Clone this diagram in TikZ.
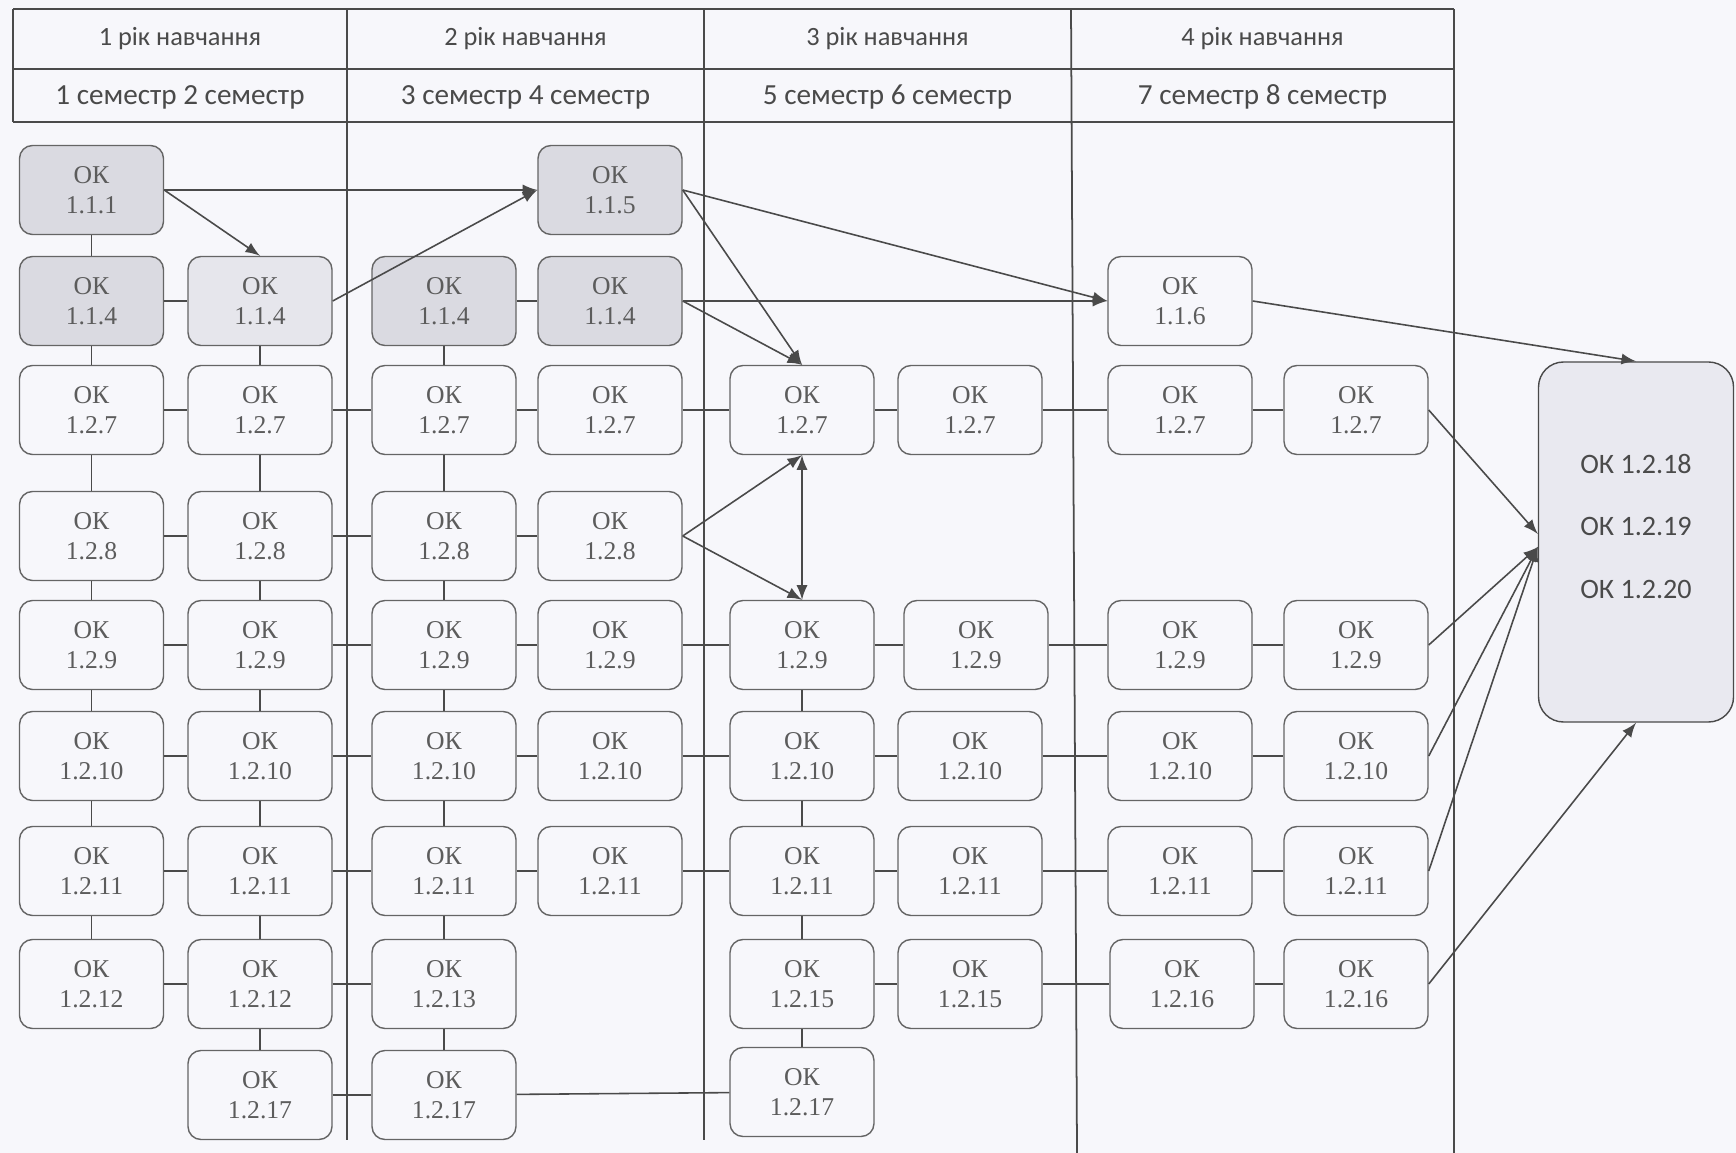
\documentclass[tikz,border=0pt]{standalone}
\usepackage{fontspec}
\setmainfont{Liberation Serif}
\newfontfamily\headfont{Carlito}
\usepackage{xcolor}
\usepackage{tikz}
\usetikzlibrary{arrows}
\usetikzlibrary{positioning}
\definecolor{paper}{HTML}{F7F7FB}
\definecolor{okdark}{HTML}{DADAE1}
\definecolor{okpale}{HTML}{E6E6EC}
\definecolor{okfinal}{HTML}{E9E9F0}
\definecolor{ink}{HTML}{4A4A4A}
\tikzstyle{okbox} = [rectangle, rounded corners=1.3mm, minimum width=1.44cm, minimum height=0.89cm, text width=1.0cm, text centered, align=center, draw=ink!85, text=ink!90, font=\fontsize{7.3}{8.6}\selectfont]
\tikzstyle{finalbox} = [rectangle, rounded corners=2.5mm, minimum width=1.95cm, minimum height=3.6cm, text depth=3.2mm, align=center, draw=ink, fill=okfinal, text=ink, font=\headfont\fontsize{8}{17.8}\selectfont]
\tikzstyle{year} = [font=\headfont\fontsize{7.5}{9}\selectfont, text=ink]
\tikzstyle{semester} = [font=\headfont\fontsize{8.3}{10}\selectfont, text=ink]
\tikzstyle{tableline} = [ink, line width=0.5pt]
\tikzstyle{link} = [ink, line width=0.45pt]
\tikzstyle{arrow} = [link,->,>=latex]

\begin{document}
\begin{tikzpicture}
    \fill[paper] (0,0) rectangle (17.36,-11.53);
    \useasboundingbox (0,0) rectangle (17.36,-11.53);
    %
    \draw[tableline] (0.13,-0.09) -- (14.54,-0.09);
    \draw[tableline] (0.13,-0.69) -- (14.54,-0.69);
    \draw[tableline] (0.13,-1.22) -- (14.54,-1.22);
    \draw[tableline] (0.13,-0.09) -- (0.13,-1.22);
    \draw[tableline] (3.47,-0.09) -- (3.47,-11.40);
    \draw[tableline] (7.04,-0.09) -- (7.04,-11.40);
    \draw[tableline] (10.71,-0.09) -- (10.77,-11.53);
    \draw[tableline] (14.54,-0.09) -- (14.54,-11.53);
    \node(year1)[year] at (1.80,-0.39) {1 рік навчання};
    \node(year2)[year] at (5.255,-0.39) {2 рік навчання};
    \node(year3)[year] at (8.875,-0.39) {3 рік навчання};
    \node(year4)[year] at (12.625,-0.39) {4 рік навчання};
    \node(sem12)[semester] at (1.80,-0.97) {1 семестр 2 семестр};
    \node(sem34)[semester] at (5.255,-0.97) {3 семестр 4 семестр};
    \node(sem56)[semester] at (8.875,-0.97) {5 семестр 6 семестр};
    \node(sem78)[semester] at (12.625,-0.97) {7 семестр 8 семестр};
    %
    \node(ok111s1)[okbox, fill=okdark] at (0.915,-1.90) {ОК\\1.1.1};
    \node(ok114s1)[okbox, fill=okdark, node distance=1.11cm, below of=ok111s1] {ОК\\1.1.4};
    \node(ok127s1)[okbox, node distance=1.09cm, below of=ok114s1] {ОК\\1.2.7};
    \node(ok128s1)[okbox, node distance=1.26cm, below of=ok127s1] {ОК\\1.2.8};
    \node(ok129s1)[okbox, node distance=1.09cm, below of=ok128s1] {ОК\\1.2.9};
    \node(ok1210s1)[okbox, node distance=1.11cm, below of=ok129s1] {ОК\\1.2.10};
    \node(ok1211s1)[okbox, node distance=1.15cm, below of=ok1210s1] {ОК\\1.2.11};
    \node(ok1212s1)[okbox, node distance=1.13cm, below of=ok1211s1] {ОК\\1.2.12};
    %
    \node(ok114s2)[okbox, fill=okpale, node distance=1.685cm, right of=ok114s1] {ОК\\1.1.4};
    \node(ok127s2)[okbox, node distance=1.685cm, right of=ok127s1] {ОК\\1.2.7};
    \node(ok128s2)[okbox, node distance=1.685cm, right of=ok128s1] {ОК\\1.2.8};
    \node(ok129s2)[okbox, node distance=1.685cm, right of=ok129s1] {ОК\\1.2.9};
    \node(ok1210s2)[okbox, node distance=1.685cm, right of=ok1210s1] {ОК\\1.2.10};
    \node(ok1211s2)[okbox, node distance=1.685cm, right of=ok1211s1] {ОК\\1.2.11};
    \node(ok1212s2)[okbox, node distance=1.685cm, right of=ok1212s1] {ОК\\1.2.12};
    \node(ok1217s2)[okbox, node distance=1.11cm, below of=ok1212s2] {ОК\\1.2.17};
    %
    \node(ok114s3)[okbox, fill=okdark, node distance=1.84cm, right of=ok114s2] {ОК\\1.1.4};
    \node(ok127s3)[okbox, node distance=1.84cm, right of=ok127s2] {ОК\\1.2.7};
    \node(ok128s3)[okbox, node distance=1.84cm, right of=ok128s2] {ОК\\1.2.8};
    \node(ok129s3)[okbox, node distance=1.84cm, right of=ok129s2] {ОК\\1.2.9};
    \node(ok1210s3)[okbox, node distance=1.84cm, right of=ok1210s2] {ОК\\1.2.10};
    \node(ok1211s3)[okbox, node distance=1.84cm, right of=ok1211s2] {ОК\\1.2.11};
    \node(ok1213s3)[okbox, node distance=1.84cm, right of=ok1212s2] {ОК\\1.2.13};
    \node(ok1217s3)[okbox, node distance=1.84cm, right of=ok1217s2] {ОК\\1.2.17};
    %
    \node(ok114s4)[okbox, fill=okdark, node distance=1.66cm, right of=ok114s3] {ОК\\1.1.4};
    \node(ok115s4)[okbox, fill=okdark, node distance=1.11cm, above of=ok114s4] {ОК\\1.1.5};
    \node(ok127s4)[okbox, node distance=1.66cm, right of=ok127s3] {ОК\\1.2.7};
    \node(ok128s4)[okbox, node distance=1.66cm, right of=ok128s3] {ОК\\1.2.8};
    \node(ok129s4)[okbox, node distance=1.66cm, right of=ok129s3] {ОК\\1.2.9};
    \node(ok1210s4)[okbox, node distance=1.66cm, right of=ok1210s3] {ОК\\1.2.10};
    \node(ok1211s4)[okbox, node distance=1.66cm, right of=ok1211s3] {ОК\\1.2.11};
    %
    \node(ok127s5)[okbox, node distance=1.92cm, right of=ok127s4] {ОК\\1.2.7};
    \node(ok129s5)[okbox, node distance=1.92cm, right of=ok129s4] {ОК\\1.2.9};
    \node(ok1210s5)[okbox, node distance=1.92cm, right of=ok1210s4] {ОК\\1.2.10};
    \node(ok1211s5)[okbox, node distance=1.92cm, right of=ok1211s4] {ОК\\1.2.11};
    \node(ok1215s5)[okbox, node distance=1.13cm, below of=ok1211s5] {ОК\\1.2.15};
    \node(ok1217s5)[okbox, node distance=1.08cm, below of=ok1215s5] {ОК\\1.2.17};
    %
    \node(ok127s6)[okbox, node distance=1.68cm, right of=ok127s5] {ОК\\1.2.7};
    \node(ok129s6)[okbox, node distance=1.74cm, right of=ok129s5] {ОК\\1.2.9};
    \node(ok1210s6)[okbox, node distance=1.68cm, right of=ok1210s5] {ОК\\1.2.10};
    \node(ok1211s6)[okbox, node distance=1.68cm, right of=ok1211s5] {ОК\\1.2.11};
    \node(ok1215s6)[okbox, node distance=1.68cm, right of=ok1215s5] {ОК\\1.2.15};
    %
    \node(ok127s7)[okbox, node distance=2.10cm, right of=ok127s6] {ОК\\1.2.7};
    \node(ok116s7)[okbox, node distance=1.09cm, above of=ok127s7] {ОК\\1.1.6};
    \node(ok129s7)[okbox, node distance=2.04cm, right of=ok129s6] {ОК\\1.2.9};
    \node(ok1210s7)[okbox, node distance=2.10cm, right of=ok1210s6] {ОК\\1.2.10};
    \node(ok1211s7)[okbox, node distance=2.10cm, right of=ok1211s6] {ОК\\1.2.11};
    \node(ok1216s7)[okbox, node distance=2.12cm, right of=ok1215s6] {ОК\\1.2.16};
    %
    \node(ok127s8)[okbox, node distance=1.76cm, right of=ok127s7] {ОК\\1.2.7};
    \node(ok129s8)[okbox, node distance=1.76cm, right of=ok129s7] {ОК\\1.2.9};
    \node(ok1210s8)[okbox, node distance=1.76cm, right of=ok1210s7] {ОК\\1.2.10};
    \node(ok1211s8)[okbox, node distance=1.76cm, right of=ok1211s7] {ОК\\1.2.11};
    \node(ok1216s8)[okbox, node distance=1.74cm, right of=ok1216s7] {ОК\\1.2.16};
    %
    \node(final)[finalbox] at (16.36,-5.42) {ОК 1.2.18\\ОК 1.2.19\\ОК 1.2.20};
    %
    \draw[link](ok111s1)--(ok114s1);
    \draw[link](ok114s1)--(ok127s1);
    \draw[link](ok127s1)--(ok128s1);
    \draw[link](ok128s1)--(ok129s1);
    \draw[link](ok129s1)--(ok1210s1);
    \draw[link](ok1210s1)--(ok1211s1);
    \draw[link](ok1211s1)--(ok1212s1);
    \draw[link](ok114s2)--(ok127s2);
    \draw[link](ok127s2)--(ok128s2);
    \draw[link](ok128s2)--(ok129s2);
    \draw[link](ok129s2)--(ok1210s2);
    \draw[link](ok1210s2)--(ok1211s2);
    \draw[link](ok1211s2)--(ok1212s2);
    \draw[link](ok1212s2)--(ok1217s2);
    \draw[link](ok114s3)--(ok127s3);
    \draw[link](ok127s3)--(ok128s3);
    \draw[link](ok128s3)--(ok129s3);
    \draw[link](ok129s3)--(ok1210s3);
    \draw[link](ok1210s3)--(ok1211s3);
    \draw[link](ok1211s3)--(ok1213s3);
    \draw[link](ok1213s3)--(ok1217s3);
    \draw[link](ok129s5)--(ok1210s5);
    \draw[link](ok1210s5)--(ok1211s5);
    \draw[link](ok1211s5)--(ok1215s5);
    \draw[link](ok1215s5)--(ok1217s5);
    %
    \draw[link](ok114s1)--(ok114s2);
    \draw[link](ok114s3)--(ok114s4);
    \draw[link](ok127s1)--(ok127s2);
    \draw[link](ok127s2)--(ok127s3);
    \draw[link](ok127s3)--(ok127s4);
    \draw[link](ok127s4)--(ok127s5);
    \draw[link](ok127s5)--(ok127s6);
    \draw[link](ok127s6)--(ok127s7);
    \draw[link](ok127s7)--(ok127s8);
    \draw[link](ok128s1)--(ok128s2);
    \draw[link](ok128s2)--(ok128s3);
    \draw[link](ok128s3)--(ok128s4);
    \draw[link](ok129s1)--(ok129s2);
    \draw[link](ok129s2)--(ok129s3);
    \draw[link](ok129s3)--(ok129s4);
    \draw[link](ok129s4)--(ok129s5);
    \draw[link](ok129s5)--(ok129s6);
    \draw[link](ok129s6)--(ok129s7);
    \draw[link](ok129s7)--(ok129s8);
    \draw[link](ok1210s1)--(ok1210s2);
    \draw[link](ok1210s2)--(ok1210s3);
    \draw[link](ok1210s3)--(ok1210s4);
    \draw[link](ok1210s4)--(ok1210s5);
    \draw[link](ok1210s5)--(ok1210s6);
    \draw[link](ok1210s6)--(ok1210s7);
    \draw[link](ok1210s7)--(ok1210s8);
    \draw[link](ok1211s1)--(ok1211s2);
    \draw[link](ok1211s2)--(ok1211s3);
    \draw[link](ok1211s3)--(ok1211s4);
    \draw[link](ok1211s4)--(ok1211s5);
    \draw[link](ok1211s5)--(ok1211s6);
    \draw[link](ok1211s6)--(ok1211s7);
    \draw[link](ok1211s7)--(ok1211s8);
    \draw[link](ok1212s1)--(ok1212s2);
    \draw[link](ok1212s2)--(ok1213s3);
    \draw[link](ok1215s5)--(ok1215s6);
    \draw[link](ok1215s6)--(ok1216s7);
    \draw[link](ok1216s7)--(ok1216s8);
    \draw[link](ok1217s2)--(ok1217s3);
    \draw[link](ok1217s3)--(ok1217s5);
    %
    \draw[arrow](ok111s1)--(ok115s4);
    \draw[arrow](ok111s1.east)--(ok114s2.north);
    \draw[arrow](ok114s2.east)--(ok115s4.west);
    \draw[arrow](ok115s4.east)--(ok116s7.west);
    \draw[arrow](ok115s4.east)--(ok127s5.north);
    \draw[arrow](ok114s4)--(ok116s7);
    \draw[arrow](ok114s4.east)--(ok127s5.north);
    \draw[arrow](ok128s4.east)--(ok127s5.south);
    \draw[arrow](ok128s4.east)--(ok129s5.north);
    \draw[arrow, <->](ok127s5)--(ok129s5);
    \draw[arrow](ok116s7.east)--(final.north);
    \draw[arrow](ok127s8.east)--([yshift=0.8mm]final.west);
    \draw[arrow](ok129s8.east)--([yshift=-0.5mm]final.west);
    \draw[arrow](ok1210s8.east)--([yshift=-0.5mm]final.west);
    \draw[arrow](ok1211s8.east)--([yshift=-0.5mm]final.west);
    \draw[arrow](ok1216s8.east)--(final.south);
\end{tikzpicture}
\end{document}
